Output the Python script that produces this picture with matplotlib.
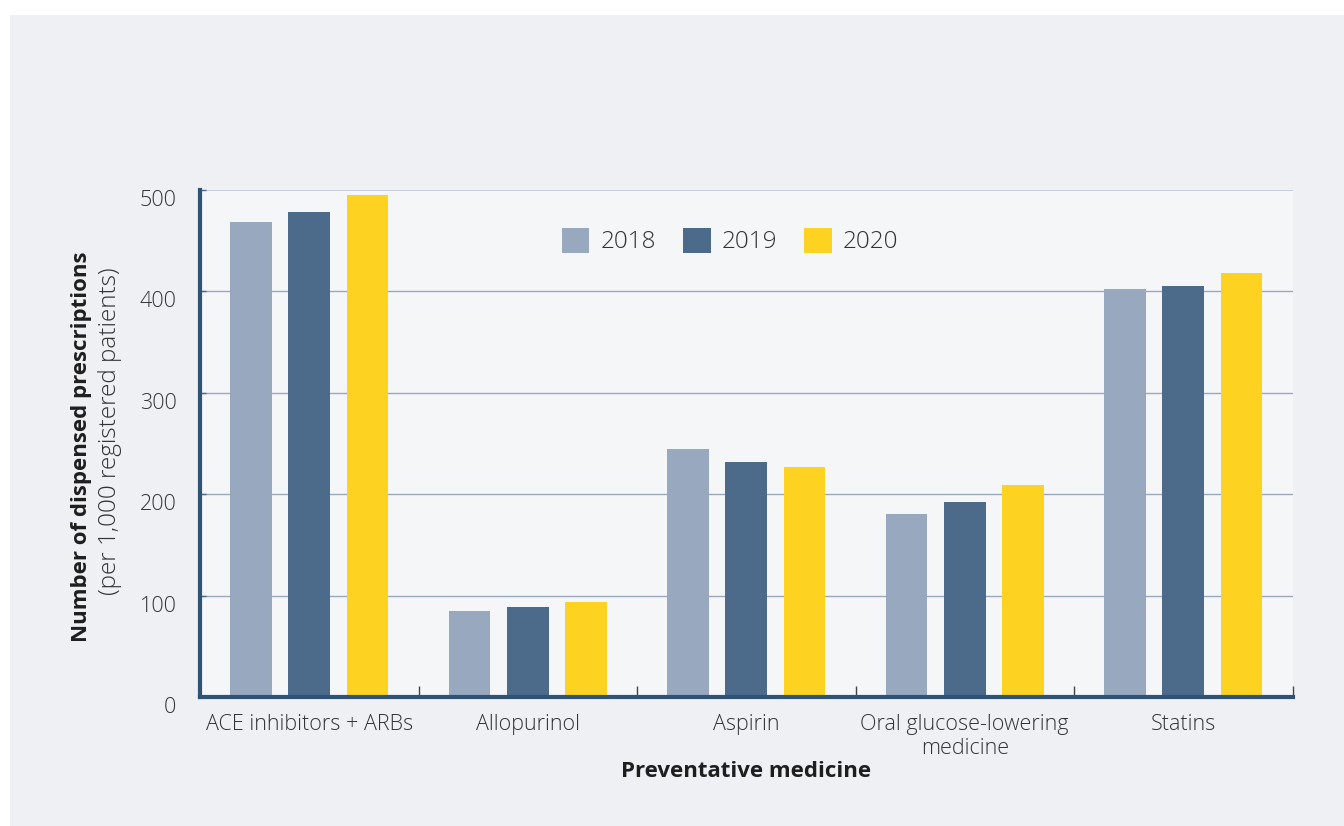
import matplotlib
matplotlib.use("Agg")
import matplotlib.pyplot as plt
import numpy as np
from matplotlib.patches import Rectangle

categories = ["ACE inhibitors + ARBs", "Allopurinol", "Aspirin",
              "Oral glucose-lowering\nmedicine", "Statins"]
years = ["2018", "2019", "2020"]
v2018 = [468, 85, 244, 180, 402]
v2019 = [478, 89, 232, 192, 405]
v2020 = [495, 94, 227, 209, 418]
yticks = [0, 100, 200, 300, 400, 500]

colors = ["#98a8be", "#4c6a8a", "#fed220"]
FONT = "Open Sans"
plt.rcParams['font.family'] = [FONT, 'DejaVu Sans']
LIGHT = 300

W, H = 1344, 826
fig = plt.figure(figsize=(W / 100, H / 100), dpi=100)
fig.patch.set_facecolor("white")
fig.add_artist(Rectangle((10 / W, 0), 1 - 10 / W, 1 - 15 / H,
                         transform=fig.transFigure, facecolor="#eff0f4",
                         edgecolor="none", zorder=0))

ax = fig.add_axes([200 / W, 1 - 697 / H, 1092.5 / W, (697 - 189.7) / H])
ax.set_facecolor("#f5f6f8")

x = np.arange(len(categories))
width = 0.19
offset = 0.267
for i, (vals, c, yr) in enumerate(zip([v2018, v2019, v2020], colors, years)):
    ax.bar(x + (i - 1) * offset, vals, width, color=c, label=yr, zorder=3)

ax.set_xlim(-0.5, len(categories) - 0.5)
ax.set_ylim(0, 500)
ax.set_yticks(yticks)
ax.set_yticklabels([str(t) for t in yticks], fontsize=15.5, color="#333333",
                   fontweight=LIGHT)
for lab in ax.get_yticklabels():
    lab.set_verticalalignment("top")
ax.tick_params(axis="y", direction="in", length=4, width=1, color="#4c6a8a", pad=17)

for t in yticks[1:]:
    ax.axhline(t, color="#c3cad6" if t == 500 else "#9aa8bc", lw=1.3 if t == 500 else 1.0, zorder=1)

ax.set_xticks(x)
ax.set_xticklabels(categories, fontsize=15.5, color="#333333", linespacing=1.2,
                   fontweight=LIGHT)
ax.tick_params(axis="x", which="major", length=0, pad=12)
ax.set_xticks(np.arange(0.5, len(categories)), minor=True)
ax.tick_params(axis="x", which="minor", direction="in", length=8, width=1, color="#444444")

for s in ["top", "right"]:
    ax.spines[s].set_visible(False)
for s in ["left", "bottom"]:
    ax.spines[s].set_color("#2f5275")
    ax.spines[s].set_linewidth(3)
    ax.spines[s].set_zorder(4)

ax.set_xlabel("Preventative medicine", fontsize=16, fontweight="bold", color="#1e1e1e", labelpad=1.5)

fig.text(82 / W, 1 - 447 / H, "Number of dispensed prescriptions", rotation=90,
         ha="center", va="center", fontsize=16, fontweight="bold", color="#1e1e1e")
fig.text(110 / W, 1 - 431 / H, "(per 1,000 registered patients)", rotation=90,
         ha="center", va="center", fontsize=17.5, color="#333333", fontweight=LIGHT)

leg = ax.legend(loc="center", bbox_to_anchor=(0.485, 0.899), ncol=3, frameon=False,
                prop={"size": 17.5, "weight": LIGHT},
                handlelength=1.15, handleheight=1.2, columnspacing=1.1,
                handletextpad=0.45)
for t in leg.get_texts():
    t.set_color("#333333")

fig.savefig("out.png", dpi=100, facecolor=fig.get_facecolor())
